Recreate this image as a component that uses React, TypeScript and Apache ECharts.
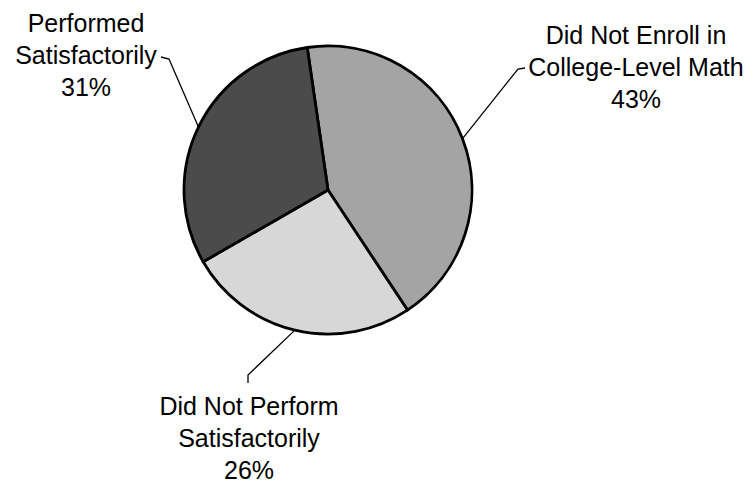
import React, { useEffect, useRef } from 'react';
import * as echarts from 'echarts';

// ---- data ----
const categories: string[] = [
  'Did Not Enroll in\nCollege-Level Math',
  'Did Not Perform\nSatisfactorily',
  'Performed\nSatisfactorily',
];
const values: number[] = [43, 26, 31];

// ---- styling / layout (not data) ----
const sliceColors = ['#a4a4a4', '#d7d7d7', '#4b4b4b'];
const labelAnchors: { x: number; y: number; knee: number[]; end: number[] }[] = [
  { x: 636, y: 67, knee: [518, 69], end: [525, 68] },
  { x: 249, y: 438, knee: [248, 375], end: [248, 383] },
  { x: 86, y: 55, knee: [169, 59], end: [161, 57] },
];
const CENTER = [328, 190];
const RADIUS = 144;
const START_ANGLE = 98.3;

export default function App() {
  const ref = useRef<HTMLDivElement>(null);
  useEffect(() => {
    if (!ref.current) return;
    const chart = echarts.init(ref.current, undefined, { renderer: 'svg' });
    const total = values.reduce((a, b) => a + b, 0);
    chart.setOption({
      animation: false,
      backgroundColor: '#ffffff',
      series: [
        {
          type: 'pie',
          center: CENTER,
          radius: RADIUS,
          startAngle: START_ANGLE,
          clockwise: true,
          avoidLabelOverlap: false,
          data: categories.map((name, i) => ({
            name,
            value: values[i],
            itemStyle: { color: sliceColors[i] },
          })),
          itemStyle: { borderColor: '#000000', borderWidth: 2.8 },
          emphasis: { disabled: true },
          label: {
            show: true,
            position: 'outside',
            formatter: (p: any) => `${p.name}\n${p.value}%`,
            fontFamily: 'Liberation Sans, Arial, sans-serif',
            fontSize: 25,
            lineHeight: 32,
            color: '#000000',
          },
          labelLine: {
            show: true,
            lineStyle: { color: '#000000', width: 1.3 },
          },
          labelLayout: (params: any) => {
            const i = params.dataIndex;
            const a = labelAnchors[i];
            let first = params.labelLinePoints && params.labelLinePoints[0];
            if (!first) {
              let acc = 0;
              for (let k = 0; k < i; k++) acc += values[k];
              const midDeg = START_ANGLE - ((acc + values[i] / 2) / total) * 360;
              const r = (midDeg * Math.PI) / 180;
              first = [CENTER[0] + RADIUS * Math.cos(r), CENTER[1] - RADIUS * Math.sin(r)];
            }
            return {
              x: a.x,
              y: a.y,
              align: 'center',
              verticalAlign: 'middle',
              labelLinePoints: [first, a.knee, a.end],
            };
          },
        },
      ],
    });
    return () => chart.dispose();
  }, []);
  return (
    <div
      ref={ref}
      style={{ position: 'fixed', left: 0, top: 0, width: 753, height: 485 }}
    />
  );
}
